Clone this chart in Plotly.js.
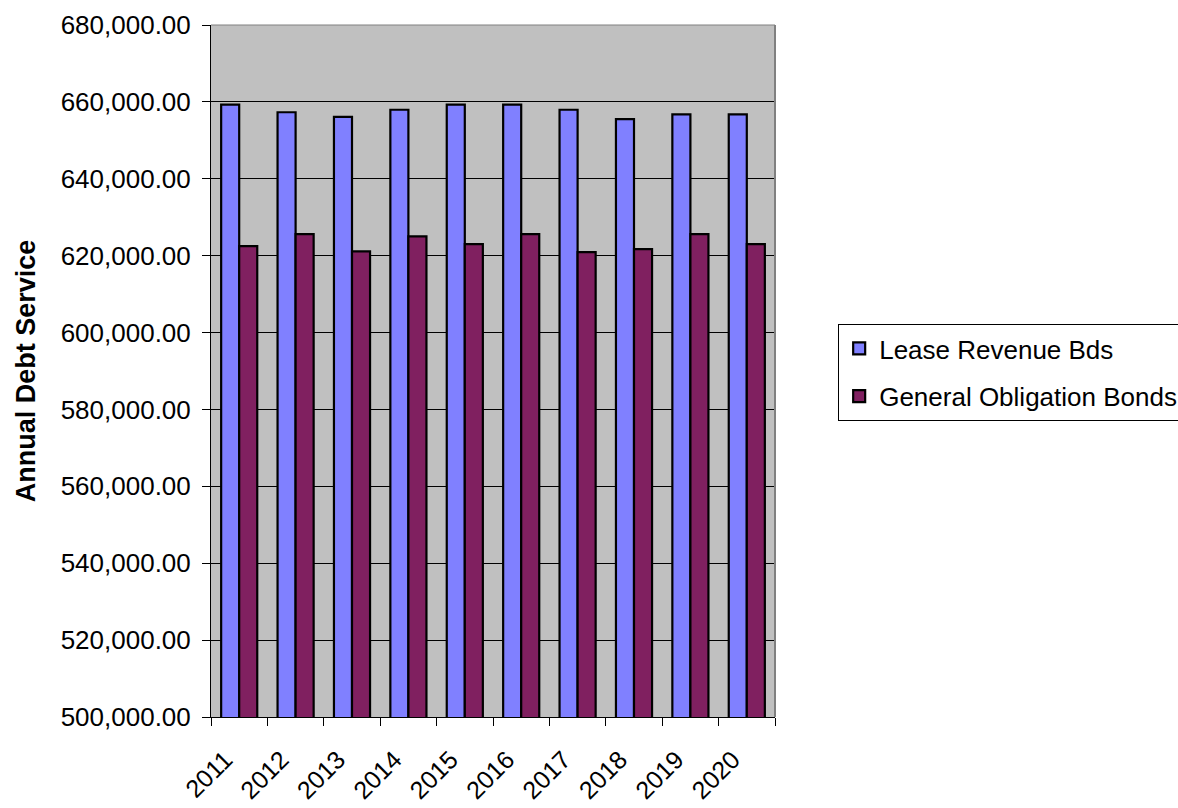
<!DOCTYPE html>
<html>
<head>
<meta charset="utf-8">
<script src="https://cdn.plot.ly/plotly-3.0.1.min.js"></script>
<style>html,body{margin:0;padding:0;background:#fff;}#chart{width:1178px;height:808px;}</style>
</head>
<body>
<div id="chart"></div>
<script>
const years = ['2011','2012','2013','2014','2015','2016','2017','2018','2019','2020'];
const leaseRevenue = [659300, 657300, 656100, 657950, 659300, 659300, 657950, 655500, 656750, 656750];
const generalObligation = [622500, 625600, 621100, 625000, 623000, 625600, 620900, 621700, 625600, 623000];
const seriesNames = ['Lease Revenue Bds', 'General Obligation Bonds'];

const font = 'Liberation Sans, Arial, sans-serif';
const traces = [
  {type:'bar', x: years, y: leaseRevenue, name: seriesNames[0], legendgroup:'a',
   marker:{color:'#8080FF', line:{color:'#000', width:2.2}}},
  {type:'bar', x: years, y: generalObligation, name: seriesNames[1], legendgroup:'b',
   marker:{color:'#802060', line:{color:'#000', width:2.2}}}
];
const layout = {
  width:1178, height:808,
  paper_bgcolor:'#fff', plot_bgcolor:'#C0C0C0',
  margin:{l:211, r:403, t:25, b:91, autoexpand:false},
  font:{family:font, size:26, color:'#000'},
  barmode:'group', bargap:0.36, bargroupgap:0,
  showlegend:true,
  legend:{x:1.112, xanchor:'left', y:(717-324)/692 , yanchor:'top',
    bordercolor:'#000', borderwidth:1, bgcolor:'#fff',
    font:{family:font, size:26, color:'#000'},
    traceorder:'grouped', tracegroupgap:11},
  xaxis:{type:'category', tickangle:-45, ticks:'outside', ticklen:8, tickcolor:'#000',
    tickson:'boundaries', showline:true, linecolor:'#000', linewidth:1, mirror:false,
    ticklabelshift:-14, ticklabelstandoff:17,
    showgrid:false, tickfont:{family:font, size:25}},
  yaxis:{range:[500000,680000], dtick:20000, tickformat:',.2f', ticks:'outside', ticklen:8,
    tickcolor:'#000', showline:true, linecolor:'#000', linewidth:1,
    showgrid:true, gridcolor:'#000', gridwidth:1, zeroline:false,
    ticklabelstandoff:6, tickfont:{family:font, size:26},
    title:{text:'<b>Annual Debt Service</b>', font:{family:font, size:27}, standoff:17}},
  shapes:[
    {type:'line', xref:'paper', yref:'paper', x0:1, x1:1, y0:0, y1:1, line:{color:'#808080', width:2}},
    {type:'line', xref:'paper', yref:'paper', x0:0, x1:1, y0:1, y1:1, line:{color:'#808080', width:1}}
  ]
};
Plotly.newPlot('chart', traces, layout, {displayModeBar:false, staticPlot:true});
</script>
</body>
</html>
